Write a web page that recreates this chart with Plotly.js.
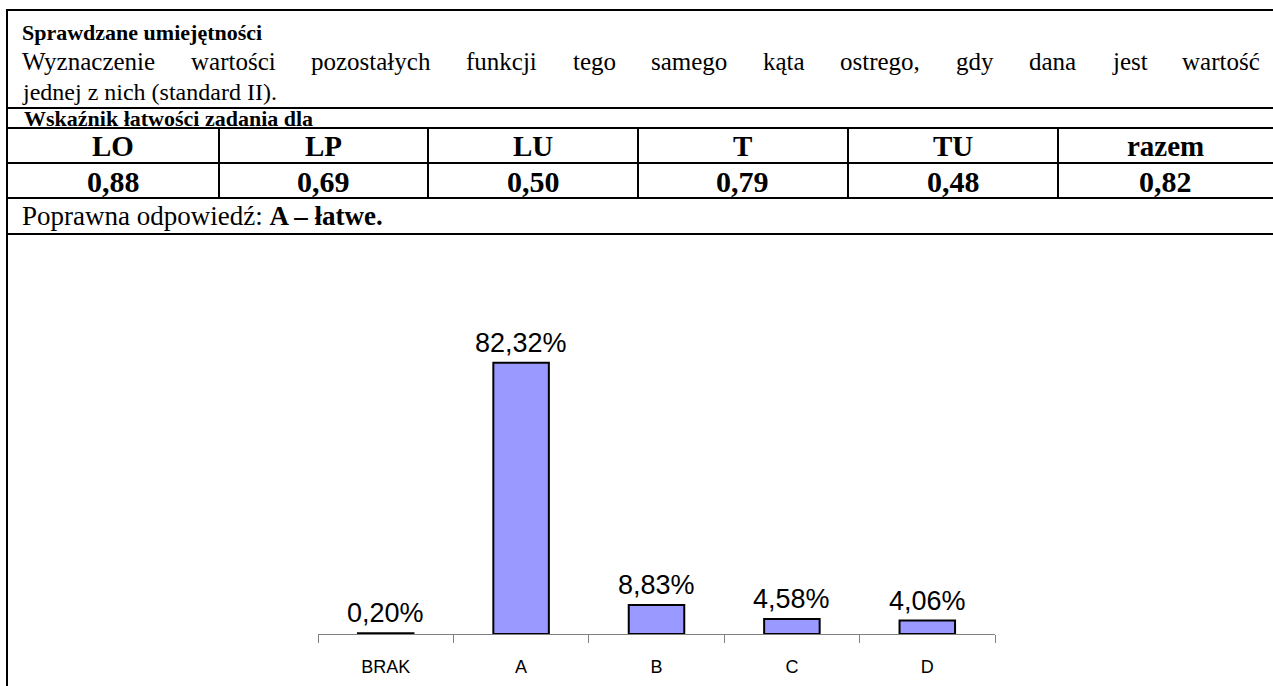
<!DOCTYPE html>
<html><head><meta charset="utf-8">
<script src="https://cdn.plot.ly/plotly-3.0.1.min.js"></script>
<style>html,body{margin:0;padding:0;background:#fff}</style>
</head><body><div id="chart" style="width:1273px;height:686px"></div>
<script>
const categories = ['BRAK', 'A', 'B', 'C', 'D'];
const percentValues = [0.20, 82.32, 8.83, 4.58, 4.06];
const groupLabels = ['LO', 'LP', 'LU', 'T', 'TU', 'razem'];
const groupIndices = [0.88, 0.69, 0.50, 0.79, 0.48, 0.82];
const skillTitle = 'Sprawdzane umiejętności';
const skillLine1 = 'Wyznaczenie wartości pozostałych funkcji tego samego kąta ostrego, gdy dana jest wartość';
const skillLine2 = 'jednej z nich (standard II).';
const indexTitle = 'Wskaźnik łatwości zadania dla';
const answerPrefix = 'Poprawna odpowiedź: ';
const answerText = 'A – łatwe.';

const W = 1273, H = 686;
const X = p => p / W, Y = p => 1 - p / H;
const fmt2 = v => v.toFixed(2).replace('.', ',');
const serif = 'Liberation Serif, Times New Roman, serif';
const sans = 'Liberation Sans, Arial, sans-serif';
const FS = 25;

// measure words for the justified line
function measure(words, size, family) {
  const svg = document.createElementNS('http://www.w3.org/2000/svg', 'svg');
  svg.setAttribute('width', '2000'); svg.setAttribute('height', '100');
  svg.style.position = 'absolute'; svg.style.left = '-3000px';
  document.body.appendChild(svg);
  const out = words.map(w => {
    const t = document.createElementNS('http://www.w3.org/2000/svg', 'text');
    t.setAttribute('font-family', family); t.setAttribute('font-size', size);
    t.textContent = w; svg.appendChild(t);
    return t.getComputedTextLength();
  });
  document.body.removeChild(svg);
  return out;
}

const shapes = [];
const line = (x0, y0, x1, y1, w) => shapes.push({type: 'line', xref: 'paper', yref: 'paper',
  x0: X(x0), y0: Y(y0), x1: X(x1), y1: Y(y1), line: {color: '#000', width: w || 2}});
// table frame
line(7, 10, W, 10);
line(7, 9, 7, H);
[108, 128, 163, 198, 234].forEach(y => line(7, y, W, y));
const colEdges = [7, 219, 428, 638, 848, 1058, 1273];
colEdges.slice(1, 6).forEach(x => line(x, 128, x, 198));

const annotations = [];
const txt = (x, y, text, opts) => annotations.push(Object.assign({
  xref: 'paper', yref: 'paper', x: X(x), y: Y(y), text: text, showarrow: false,
  xanchor: 'left', yanchor: 'middle', font: {family: serif, size: FS, color: '#000'}
}, opts || {}));
const f = s => ({family: serif, size: s, color: '#000'});

txt(20, 33, '<b>' + skillTitle + '</b>', {font: f(22)});
// justified line
const words = skillLine1.split(' ');
const widths = measure(words, FS, serif);
const left = 20, right = 1258;
const gap = (right - left - widths.reduce((a, b) => a + b, 0)) / (words.length - 1);
let cx = left;
words.forEach((w, i) => { txt(cx, 62, w); cx += widths[i] + gap; });
txt(20, 92, skillLine2, {font: f(24)});
txt(22, 118, '<b>' + indexTitle + '</b>', {font: f(22)});
groupLabels.forEach((g, i) => {
  const c = (colEdges[i] + colEdges[i + 1]) / 2;
  txt(c, 146, '<b>' + g + '</b>', {xanchor: 'center', font: f(29)});
  txt(c, 181, '<b>' + fmt2(groupIndices[i]) + '</b>', {xanchor: 'center', font: f(30)});
});
txt(20, 216, answerPrefix + '<b>' + answerText + '</b>', {font: f(27)});

// bar value labels
categories.forEach((c, i) => annotations.push({
  xref: 'x', yref: 'y', x: c, y: percentValues[i], text: fmt2(percentValues[i]) + '%',
  showarrow: false, xanchor: 'center', yanchor: 'bottom', yshift: 3,
  font: {family: sans, size: 27, color: '#000'}
}));

const trace = {
  type: 'bar', x: categories, y: percentValues, width: 0.41,
  marker: {color: '#9999FF', line: {color: '#000', width: 2}},
  hoverinfo: 'skip'
};

const layout = {
  width: W, height: H, margin: {l: 0, r: 0, t: 0, b: 0},
  paper_bgcolor: '#fff', plot_bgcolor: 'rgba(0,0,0,0)', showlegend: false,
  xaxis: {domain: [X(318), X(995)], type: 'category', showline: true, linecolor: '#808080', linewidth: 1,
    ticks: 'outside', tickson: 'boundaries', ticklen: 8, tickcolor: '#808080', tickwidth: 1,
    ticklabelstandoff: 16, tickfont: {family: sans, size: 18, color: '#000'},
    showgrid: false, zeroline: false, fixedrange: true},
  yaxis: {domain: [Y(634), Y(332)], range: [0, 91.66], visible: false, showgrid: false, zeroline: false, fixedrange: true},
  shapes: shapes, annotations: annotations, bargap: 0.59
};
Plotly.newPlot('chart', [trace], layout, {displayModeBar: false, staticPlot: true});
</script></body></html>
